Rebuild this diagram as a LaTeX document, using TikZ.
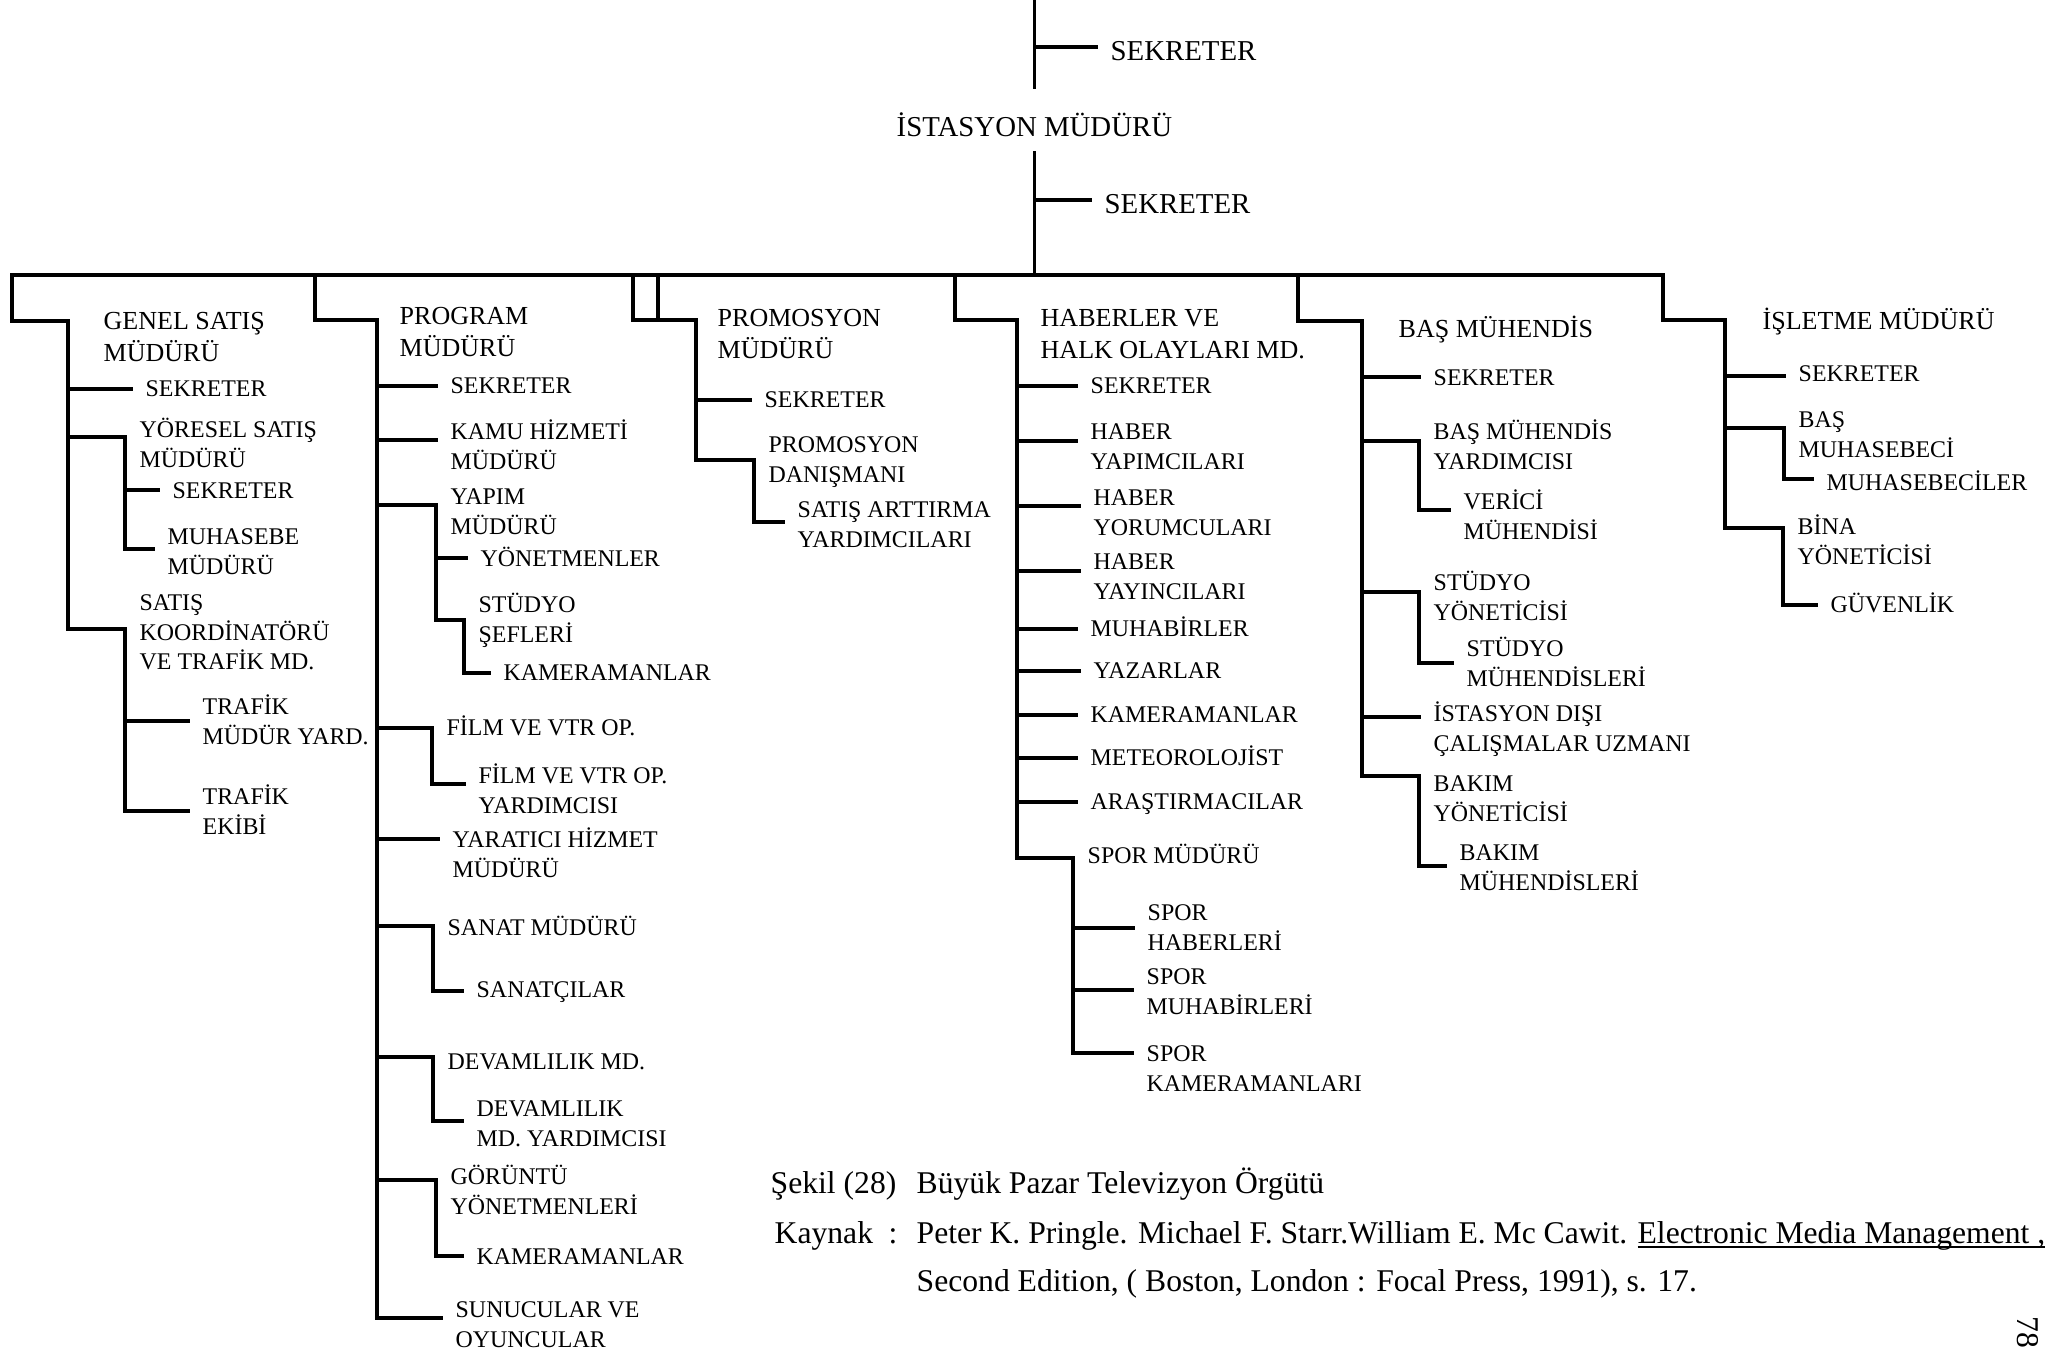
\documentclass[tikz,border=0pt]{standalone}
\usepackage{fontspec}
\setmainfont{Liberation Serif}
% left-aligned stack of lines whose baseline is that of the first line
\newcommand\stackl[1]{\begin{tabular}[t]{@{}l@{}}#1\end{tabular}}
% underline kept close to the baseline
\newcommand\ulbase[1]{\setbox0\hbox{#1}\rlap{\rule[-1.3pt]{\wd0}{0.5pt}}\box0}
\begin{document}
\begin{tikzpicture}[x=0.1mm,y=-0.1mm,
  ln/.style={line width=0.95pt, line cap=rect, line join=miter},
  lbl/.style={anchor=base west, inner xsep=1.4mm, inner ysep=0pt, xshift=-1.4mm},
  head/.style={lbl, font=\fontsize{8.2}{10}\selectfont, yshift=-2.7pt},
  dept/.style={lbl, font=\fontsize{7.4}{9.1}\selectfont, yshift=-2.45pt},
  sub/.style={lbl, font=\fontsize{6.8}{8.4}\selectfont, yshift=-2.25pt},
  capt/.style={anchor=base west, inner sep=0pt, font=\fontsize{9}{11}\selectfont, yshift=-3pt}]

\fill[white] (0,0) rectangle (2056,1353);
\useasboundingbox (0,0) rectangle (2056,1353);

% ---------- top of the chart ----------
\node[head] (sekA) at (1110,51) {SEKRETER};
\node[head] (ist) at (896,127) {İSTASYON MÜDÜRÜ};
\node[head] (sekB) at (1104,204) {SEKRETER};
\draw[ln] (ist.north|-0,0) -- (ist.north|-0,87);
\draw[ln] (ist.north|-0,47) -- (sekA.west|-0,47);
\draw[ln] (ist.north|-0,153) -- (ist.north|-0,275);
\draw[ln] (ist.north|-0,200) -- (sekB.west|-0,200);

% main horizontal bar
\coordinate (barL) at (12,275);
\coordinate (barR) at (1663,275);
\draw[ln] (barL) -- (barR);

% ---------- GENEL SATIŞ MÜDÜRÜ ----------
\node[dept] (gs) at (103,321) {\stackl{GENEL SATIŞ\\MÜDÜRÜ}};
\node[sub] (gs1) at (145,389) {SEKRETER};
\node[sub] (gs2) at (139,430) {\stackl{YÖRESEL SATIŞ\\MÜDÜRÜ}};
\node[sub] (gs21) at (172,491) {SEKRETER};
\node[sub] (gs22) at (167,537) {\stackl{MUHASEBE\\MÜDÜRÜ}};
\node[sub] (gs3) at (139,603) {\stackl{SATIŞ\\KOORDİNATÖRÜ\\VE TRAFİK MD.}};
\node[sub] (gs31) at (202,707) {\stackl{TRAFİK\\MÜDÜR YARD.}};
\node[sub] (gs32) at (202,797) {\stackl{TRAFİK\\EKİBİ}};

\draw[ln] (barL) -- (12,321) -- (68,321) -- (68,629) -- (gs3.west|-0,629) -- (gs3.west|-0,811) -- (gs32.west|-0,811);
\draw[ln] (68,389) -- (gs1.west|-0,389);
\draw[ln] (68,437) -- (gs2.west|-0,437) -- (gs2.west|-0,549) -- (gs22.west|-0,549);
\draw[ln] (gs2.west|-0,490) -- (gs21.west|-0,490);
\draw[ln] (gs3.west|-0,721) -- (gs31.west|-0,721);

% ---------- PROGRAM MÜDÜRÜ ----------
\node[dept] (pr) at (399,316) {\stackl{PROGRAM\\MÜDÜRÜ}};
\node[sub] (pr1) at (450,386) {SEKRETER};
\node[sub] (pr2) at (450,432) {\stackl{KAMU HİZMETİ\\MÜDÜRÜ}};
\node[sub] (pr3) at (450,497) {\stackl{YAPIM\\MÜDÜRÜ}};
\node[sub] (pr31) at (480,559) {YÖNETMENLER};
\node[sub] (pr32) at (478,605) {\stackl{STÜDYO\\ŞEFLERİ}};
\node[sub] (pr321) at (503,673) {KAMERAMANLAR};
\node[sub] (pr4) at (446,728) {FİLM VE VTR OP.};
\node[sub] (pr41) at (478,776) {\stackl{FİLM VE VTR OP.\\YARDIMCISI}};
\node[sub] (pr5) at (452,840) {\stackl{YARATICI HİZMET\\MÜDÜRÜ}};
\node[sub] (pr6) at (447,928) {SANAT MÜDÜRÜ};
\node[sub] (pr61) at (476,990) {SANATÇILAR};
\node[sub] (pr7) at (447,1062) {DEVAMLILIK MD.};
\node[sub] (pr71) at (476,1109) {\stackl{DEVAMLILIK\\MD. YARDIMCISI}};
\node[sub] (pr8) at (450,1177) {\stackl{GÖRÜNTÜ\\YÖNETMENLERİ}};
\node[sub] (pr81) at (476,1257) {KAMERAMANLAR};
\node[sub] (pr9) at (455,1310) {\stackl{SUNUCULAR VE\\OYUNCULAR}};

\draw[ln] (315,275) -- (315,320) -- (377,320) -- (377,1318) -- (pr9.west|-0,1318);
\draw[ln] (377,386) -- (pr1.west|-0,386);
\draw[ln] (377,440) -- (pr2.west|-0,440);
\draw[ln] (377,505) -- (pr3.west|-0,505) -- (pr3.west|-0,620) -- (pr32.west|-0,620) -- (pr32.west|-0,673) -- (pr321.west|-0,673);
\draw[ln] (pr3.west|-0,558) -- (pr31.west|-0,558);
\draw[ln] (377,728) -- (pr4.west|-0,728) -- (pr4.west|-0,784) -- (pr41.west|-0,784);
\draw[ln] (377,839) -- (pr5.west|-0,839);
\draw[ln] (377,926) -- (pr6.west|-0,926) -- (pr6.west|-0,991) -- (pr61.west|-0,991);
\draw[ln] (377,1057) -- (pr7.west|-0,1057) -- (pr7.west|-0,1121) -- (pr71.west|-0,1121);
\draw[ln] (377,1180) -- (pr8.west|-0,1180) -- (pr8.west|-0,1256) -- (pr81.west|-0,1256);

% ---------- PROMOSYON MÜDÜRÜ ----------
\node[dept] (pm) at (717,318) {\stackl{PROMOSYON\\MÜDÜRÜ}};
\node[sub] (pm1) at (764,400) {SEKRETER};
\node[sub] (pm2) at (768,445) {\stackl{PROMOSYON\\DANIŞMANI}};
\node[sub] (pm21) at (797,510) {\stackl{SATIŞ ARTTIRMA\\YARDIMCILARI}};

\draw[ln] (633,275) -- (633,320) -- (696,320) -- (696,460) -- (pm2.west|-0,460) -- (pm2.west|-0,522) -- (pm21.west|-0,522);
\draw[ln] (658,275) -- (658,320);
\draw[ln] (696,400) -- (pm1.west|-0,400);

% ---------- HABERLER VE HALK OLAYLARI MD. ----------
\node[dept] (hb) at (1040,318) {\stackl{HABERLER VE\\HALK OLAYLARI MD.}};
\node[sub] (hb1) at (1090,386) {SEKRETER};
\node[sub] (hb2) at (1090,432) {\stackl{HABER\\YAPIMCILARI}};
\node[sub] (hb3) at (1093,498) {\stackl{HABER\\YORUMCULARI}};
\node[sub] (hb4) at (1093,562) {\stackl{HABER\\YAYINCILARI}};
\node[sub] (hb5) at (1090,629) {MUHABİRLER};
\node[sub] (hb6) at (1093,671) {YAZARLAR};
\node[sub] (hb7) at (1090,715) {KAMERAMANLAR};
\node[sub] (hb8) at (1090,758) {METEOROLOJİST};
\node[sub] (hb9) at (1090,802) {ARAŞTIRMACILAR};
\node[sub] (hb10) at (1087,856) {SPOR MÜDÜRÜ};
\node[sub] (hb101) at (1147,913) {\stackl{SPOR\\HABERLERİ}};
\node[sub] (hb102) at (1146,977) {\stackl{SPOR\\MUHABİRLERİ}};
\node[sub] (hb103) at (1146,1054) {\stackl{SPOR\\KAMERAMANLARI}};

\draw[ln] (955,275) -- (955,320) -- (1017,320) -- (1017,858) -- (hb10.west|-0,858) -- (hb10.west|-0,1053) -- (hb103.west|-0,1053);
\draw[ln] (1017,386) -- (hb1.west|-0,386);
\draw[ln] (1017,441) -- (hb2.west|-0,441);
\draw[ln] (1017,506) -- (hb3.west|-0,506);
\draw[ln] (1017,571) -- (hb4.west|-0,571);
\draw[ln] (1017,629) -- (hb5.west|-0,629);
\draw[ln] (1017,671) -- (hb6.west|-0,671);
\draw[ln] (1017,715) -- (hb7.west|-0,715);
\draw[ln] (1017,758) -- (hb8.west|-0,758);
\draw[ln] (1017,802) -- (hb9.west|-0,802);
\draw[ln] (hb10.west|-0,928) -- (hb101.west|-0,928);
\draw[ln] (hb10.west|-0,990) -- (hb102.west|-0,990);

% ---------- BAŞ MÜHENDİS ----------
\node[dept] (bm) at (1398,329) {BAŞ MÜHENDİS};
\node[sub] (bm1) at (1433,378) {SEKRETER};
\node[sub] (bm2) at (1433,432) {\stackl{BAŞ MÜHENDİS\\YARDIMCISI}};
\node[sub] (bm21) at (1463,502) {\stackl{VERİCİ\\MÜHENDİSİ}};
\node[sub] (bm3) at (1433,583) {\stackl{STÜDYO\\YÖNETİCİSİ}};
\node[sub] (bm31) at (1466,649) {\stackl{STÜDYO\\MÜHENDİSLERİ}};
\node[sub] (bm4) at (1433,714) {\stackl{İSTASYON DIŞI\\ÇALIŞMALAR UZMANI}};
\node[sub] (bm5) at (1433,784) {\stackl{BAKIM\\YÖNETİCİSİ}};
\node[sub] (bm51) at (1459,853) {\stackl{BAKIM\\MÜHENDİSLERİ}};

\draw[ln] (1298,275) -- (1298,321) -- (1362,321) -- (1362,776) -- (bm5.west|-0,776) -- (bm5.west|-0,866) -- (bm51.west|-0,866);
\draw[ln] (1362,377) -- (bm1.west|-0,377);
\draw[ln] (1362,441) -- (bm2.west|-0,441) -- (bm2.west|-0,510) -- (bm21.west|-0,510);
\draw[ln] (1362,592) -- (bm3.west|-0,592) -- (bm3.west|-0,663) -- (bm31.west|-0,663);
\draw[ln] (1362,717) -- (bm4.west|-0,717);

% ---------- İŞLETME MÜDÜRÜ ----------
\node[dept] (is) at (1762,321) {İŞLETME MÜDÜRÜ};
\node[sub] (is1) at (1798,374) {SEKRETER};
\node[sub] (is2) at (1798,420) {\stackl{BAŞ\\MUHASEBECİ}};
\node[sub] (is21) at (1826,483) {MUHASEBECİLER};
\node[sub] (is3) at (1797,527) {\stackl{BİNA\\YÖNETİCİSİ}};
\node[sub] (is31) at (1830,605) {GÜVENLİK};

\draw[ln] (barR) -- (1663,320) -- (1725,320) -- (1725,528) -- (is3.west|-0,528) -- (is3.west|-0,605) -- (is31.west|-0,605);
\draw[ln] (1725,376) -- (is1.west|-0,376);
\draw[ln] (1725,428) -- (is2.west|-0,428) -- (is2.west|-0,479) -- (is21.west|-0,479);

% ---------- caption and source ----------
\node[capt] (fig) at (770,1183) {Şekil (28)};
\node[capt] (figt) at (916,1183) {Büyük Pazar Televizyon Örgütü};
\node[capt] (src) at (774,1233) {Kaynak};
\node[capt] (srcc) at (888,1233) {:};
\node[capt] (srct) at (916,1233) {Peter K. Pringle. Michael F. Starr.William E. Mc Cawit. \ulbase{Electronic Media Management ,}};
\node[capt] (srcd) at (916,1281) {Second Edition, ( Boston, London : Focal Press, 1991), s. 17.};
\node[font=\fontsize{9}{11}\selectfont, rotate=-90, inner sep=0pt] (pg) at (2028,1332) {78};

\end{tikzpicture}
\end{document}
